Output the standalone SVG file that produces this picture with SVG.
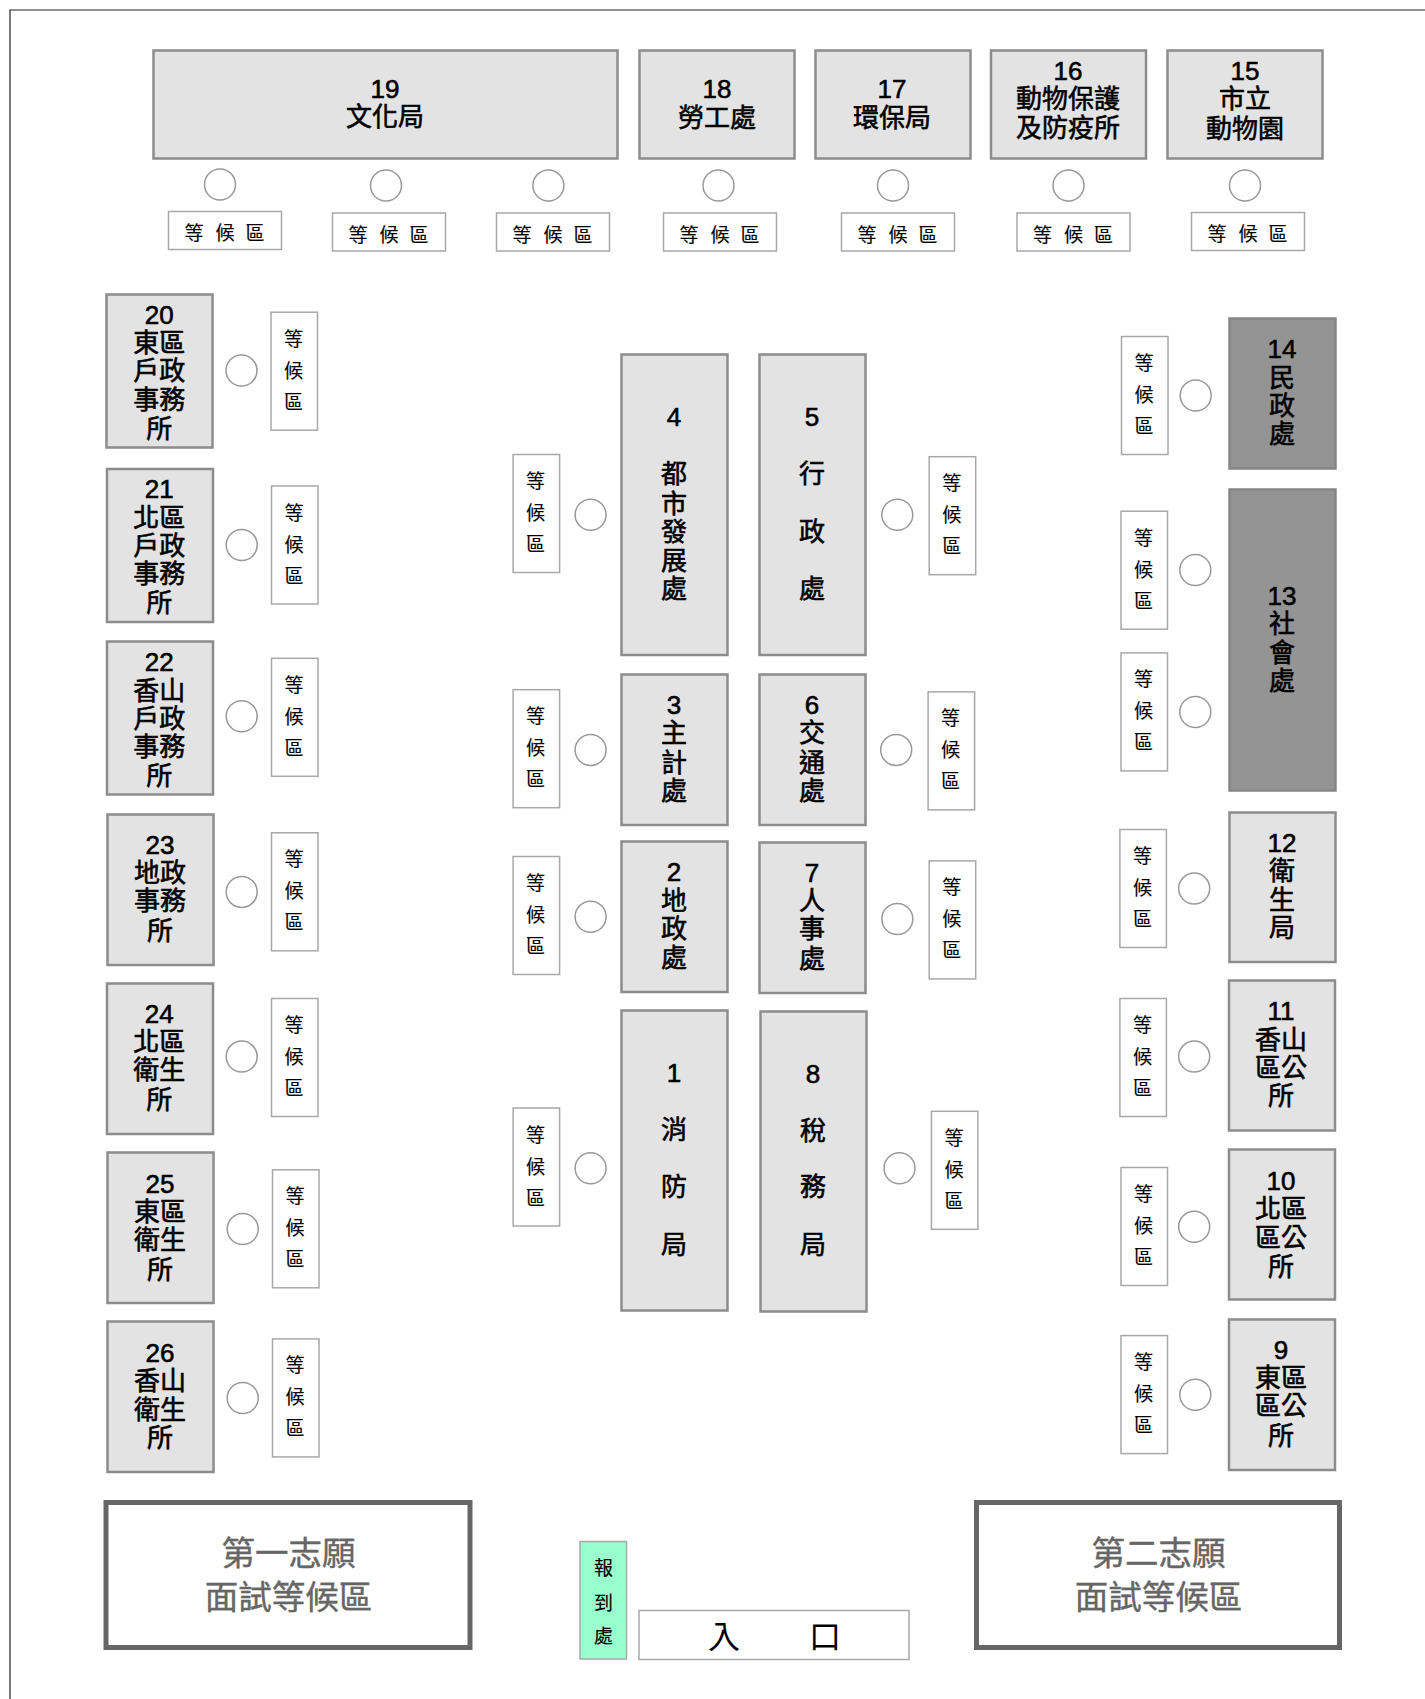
<svg xmlns="http://www.w3.org/2000/svg" width="1425" height="1699" viewBox="0 0 1425 1699">
<style>
text{font-family:"Liberation Sans","Noto Sans CJK TC",sans-serif;text-anchor:middle;fill:#000}
.n{fill:#e3e3e3;stroke:#8c8c8c;stroke-width:2.5;transform:translate(.5px,.5px)}
.d{fill:#949494;stroke:#868686;stroke-width:2.5;transform:translate(.5px,.5px)}
.w{fill:#fff;stroke:#a8a8a8;stroke-width:1.5;transform:translate(.5px,.5px)}
.c{fill:#fff;stroke:#999;stroke-width:1.5}
.t{font-size:26px;stroke:#000;stroke-width:.6;transform:translateY(-.8px)}
.ws{font-size:19px;stroke:#000;stroke-width:.15;transform:translateY(1px)}
.rs{font-size:19px;stroke:#000;stroke-width:.15}
.big{fill:#fff;stroke:#666;stroke-width:5}
.bt{font-size:33.500px;fill:#666;stroke:#666;stroke-width:.4}
</style>
<rect width="1425" height="1699" fill="#fff"/>
<path d="M10 1699V10H1425" fill="none" stroke="#222" stroke-width="1.2"/>
<g id="n19"><rect class="n" x="153" y="50" width="464" height="108"/><text class="t"><tspan x="385" y="98.500">19</tspan><tspan x="385" y="126.500">文化局</tspan></text></g>
<g id="n18"><rect class="n" x="639" y="50" width="155" height="108"/><text class="t"><tspan x="717" y="98.500">18</tspan><tspan x="717" y="127.500">勞工處</tspan></text></g>
<g id="n17"><rect class="n" x="815" y="50" width="155" height="108"/><text class="t"><tspan x="892" y="98.500">17</tspan><tspan x="892" y="127.500">環保局</tspan></text></g>
<g id="n16"><rect class="n" x="990.500" y="50" width="155" height="108"/><text class="t"><tspan x="1068" y="81">16</tspan><tspan x="1068" y="109">動物保護</tspan><tspan x="1068" y="137.500">及防疫所</tspan></text></g>
<g id="n15"><rect class="n" x="1167" y="50" width="155" height="108"/><text class="t"><tspan x="1245" y="81">15</tspan><tspan x="1245" y="109">市立</tspan><tspan x="1245" y="138.500">動物園</tspan></text></g>
<g id="n20"><rect class="n" x="106" y="294" width="106" height="153"/><text class="t"><tspan x="159.300" y="325">20</tspan><tspan x="159.300" y="353">東區</tspan><tspan x="159.300" y="381">戶政</tspan><tspan x="159.300" y="409.500">事務</tspan><tspan x="159.300" y="438.500">所</tspan></text></g>
<g id="n21"><rect class="n" x="106.500" y="468.500" width="106" height="153"/><text class="t"><tspan x="159.300" y="499.300">21</tspan><tspan x="159.300" y="527.500">北區</tspan><tspan x="159.300" y="555.700">戶政</tspan><tspan x="159.300" y="583.900">事務</tspan><tspan x="159.300" y="613">所</tspan></text></g>
<g id="n22"><rect class="n" x="106.500" y="641" width="106" height="153"/><text class="t"><tspan x="159.300" y="671.700">22</tspan><tspan x="159.300" y="700.900">香山</tspan><tspan x="159.300" y="729">戶政</tspan><tspan x="159.300" y="757.300">事務</tspan><tspan x="159.300" y="785.400">所</tspan></text></g>
<g id="n23"><rect class="n" x="107" y="814" width="106" height="150.500"/><text class="t"><tspan x="160" y="854.800">23</tspan><tspan x="160" y="883">地政</tspan><tspan x="160" y="911.100">事務</tspan><tspan x="160" y="940.400">所</tspan></text></g>
<g id="n24"><rect class="n" x="106.500" y="983" width="106" height="150.500"/><text class="t"><tspan x="159.300" y="1023.800">24</tspan><tspan x="159.300" y="1052">北區</tspan><tspan x="159.300" y="1080.200">衛生</tspan><tspan x="159.300" y="1109.500">所</tspan></text></g>
<g id="n25"><rect class="n" x="107" y="1152" width="106" height="150.500"/><text class="t"><tspan x="160" y="1194">25</tspan><tspan x="160" y="1222.200">東區</tspan><tspan x="160" y="1250.300">衛生</tspan><tspan x="160" y="1279.600">所</tspan></text></g>
<g id="n26"><rect class="n" x="107" y="1321" width="106" height="150.500"/><text class="t"><tspan x="160" y="1363">26</tspan><tspan x="160" y="1391.200">香山</tspan><tspan x="160" y="1419.400">衛生</tspan><tspan x="160" y="1447.500">所</tspan></text></g>
<g id="n4"><rect class="n" x="621" y="354" width="106" height="300.500"/><text class="t"><tspan x="674" y="426.500">4</tspan><tspan x="674" y="484.200">都</tspan><tspan x="674" y="513.400">市</tspan><tspan x="674" y="541.500">發</tspan><tspan x="674" y="570.900">展</tspan><tspan x="674" y="599">處</tspan></text></g>
<g id="n5"><rect class="n" x="759" y="354" width="106" height="300.500"/><text class="t"><tspan x="812" y="426.500">5</tspan><tspan x="812" y="484.200">行</tspan><tspan x="812" y="541.500">政</tspan><tspan x="812" y="599">處</tspan></text></g>
<g id="n3"><rect class="n" x="621" y="674" width="106" height="150.500"/><text class="t"><tspan x="674" y="715">3</tspan><tspan x="674" y="743.200">主</tspan><tspan x="674" y="772.400">計</tspan><tspan x="674" y="800.600">處</tspan></text></g>
<g id="n6"><rect class="n" x="759" y="674" width="106" height="150.500"/><text class="t"><tspan x="812" y="715">6</tspan><tspan x="812" y="743.200">交</tspan><tspan x="812" y="772.400">通</tspan><tspan x="812" y="800.600">處</tspan></text></g>
<g id="n2"><rect class="n" x="621" y="841" width="106" height="150.500"/><text class="t"><tspan x="674" y="881.900">2</tspan><tspan x="674" y="911.100">地</tspan><tspan x="674" y="939.300">政</tspan><tspan x="674" y="967.500">處</tspan></text></g>
<g id="n7"><rect class="n" x="759" y="842" width="106" height="150.500"/><text class="t"><tspan x="812" y="883">7</tspan><tspan x="812" y="911.100">人</tspan><tspan x="812" y="939.300">事</tspan><tspan x="812" y="968.500">處</tspan></text></g>
<g id="n1"><rect class="n" x="621" y="1010" width="106" height="300"/><text class="t"><tspan x="674" y="1082.400">1</tspan><tspan x="674" y="1139.800">消</tspan><tspan x="674" y="1197.200">防</tspan><tspan x="674" y="1254.600">局</tspan></text></g>
<g id="n8"><rect class="n" x="760" y="1011" width="106" height="300"/><text class="t"><tspan x="813" y="1083.500">8</tspan><tspan x="813" y="1140.900">稅</tspan><tspan x="813" y="1197.200">務</tspan><tspan x="813" y="1254.600">局</tspan></text></g>
<g id="n14"><rect class="d" x="1229" y="318" width="106" height="150"/><text class="t"><tspan x="1282" y="358.500">14</tspan><tspan x="1282" y="387.700">民</tspan><tspan x="1282" y="415.900">政</tspan><tspan x="1282" y="444.100">處</tspan></text></g>
<g id="n13"><rect class="d" x="1229" y="489" width="106" height="301"/><text class="t"><tspan x="1282" y="605.500">13</tspan><tspan x="1282" y="633.700">社</tspan><tspan x="1282" y="663">會</tspan><tspan x="1282" y="691.100">處</tspan></text></g>
<g id="n12"><rect class="n" x="1229" y="812" width="106" height="149.500"/><text class="t"><tspan x="1282" y="852.500">12</tspan><tspan x="1282" y="880.800">衛</tspan><tspan x="1282" y="910">生</tspan><tspan x="1282" y="938.200">局</tspan></text></g>
<g id="n11"><rect class="n" x="1228.500" y="980" width="106" height="150"/><text class="t"><tspan x="1281" y="1020.500">11</tspan><tspan x="1281" y="1049.800">香山</tspan><tspan x="1281" y="1078">區公</tspan><tspan x="1281" y="1106.200">所</tspan></text></g>
<g id="n10"><rect class="n" x="1228.500" y="1149" width="106" height="150"/><text class="t"><tspan x="1281" y="1190.700">10</tspan><tspan x="1281" y="1218.900">北區</tspan><tspan x="1281" y="1248.200">區公</tspan><tspan x="1281" y="1276.400">所</tspan></text></g>
<g id="n9"><rect class="n" x="1228.500" y="1319" width="106" height="150.500"/><text class="t"><tspan x="1281" y="1359.800">9</tspan><tspan x="1281" y="1388">東區</tspan><tspan x="1281" y="1416.100">區公</tspan><tspan x="1281" y="1445.400">所</tspan></text></g>

<g id="seat-t1"><circle class="c" cx="220" cy="184.500" r="15.500"/><g transform="translate(168 211)"><rect class="w" width="113" height="38"/><text class="ws" x="26 57 87" y="28 28 28">等候區</text></g></g>
<g id="seat-t2"><circle class="c" cx="386" cy="185.500" r="15.500"/><g transform="translate(332 212.500)"><rect class="w" width="113" height="38"/><text class="ws" x="26 57 87" y="28 28 28">等候區</text></g></g>
<g id="seat-t3"><circle class="c" cx="548.400" cy="185.500" r="15.500"/><g transform="translate(496 212.500)"><rect class="w" width="113" height="38"/><text class="ws" x="26 57 87" y="28 28 28">等候區</text></g></g>
<g id="seat-t4"><circle class="c" cx="718.500" cy="185.500" r="15.500"/><g transform="translate(663 212.500)"><rect class="w" width="113" height="38"/><text class="ws" x="26 57 87" y="28 28 28">等候區</text></g></g>
<g id="seat-t5"><circle class="c" cx="893" cy="185.500" r="15.500"/><g transform="translate(841 212.500)"><rect class="w" width="113" height="38"/><text class="ws" x="26 57 87" y="28 28 28">等候區</text></g></g>
<g id="seat-t6"><circle class="c" cx="1068.500" cy="185.500" r="15.500"/><g transform="translate(1016.500 212.500)"><rect class="w" width="113" height="38"/><text class="ws" x="26 57 87" y="28 28 28">等候區</text></g></g>
<g id="seat-t7"><circle class="c" cx="1245" cy="185.500" r="15.500"/><g transform="translate(1191 212)"><rect class="w" width="113" height="38"/><text class="ws" x="26 57 87" y="28 28 28">等候區</text></g></g>

<g id="seat-20"><circle class="c" cx="241.500" cy="370.500" r="15.500"/><g transform="translate(270.500 311.700)"><rect class="w" width="46.500" height="118"/><text class="ws" x="23 23 23" y="33 65 96">等候區</text></g></g>
<g id="seat-21"><circle class="c" cx="241.700" cy="545" r="15.500"/><g transform="translate(271 485.500)"><rect class="w" width="46.500" height="118"/><text class="ws" x="23 23 23" y="33 65 96">等候區</text></g></g>
<g id="seat-22"><circle class="c" cx="241.700" cy="716.300" r="15.500"/><g transform="translate(271 657.800)"><rect class="w" width="46.500" height="118"/><text class="ws" x="23 23 23" y="33 65 96">等候區</text></g></g>
<g id="seat-23"><circle class="c" cx="241.700" cy="891.900" r="15.500"/><g transform="translate(271 832.300)"><rect class="w" width="46.500" height="118"/><text class="ws" x="23 23 23" y="33 65 96">等候區</text></g></g>
<g id="seat-24"><circle class="c" cx="241.700" cy="1056.600" r="15.500"/><g transform="translate(271 998)"><rect class="w" width="46.500" height="118"/><text class="ws" x="23 23 23" y="33 65 96">等候區</text></g></g>
<g id="seat-25"><circle class="c" cx="242.700" cy="1229" r="15.500"/><g transform="translate(272 1169.300)"><rect class="w" width="46.500" height="118"/><text class="ws" x="23 23 23" y="33 65 96">等候區</text></g></g>
<g id="seat-26"><circle class="c" cx="242.700" cy="1398" r="15.500"/><g transform="translate(272 1338.400)"><rect class="w" width="46.500" height="118"/><text class="ws" x="23 23 23" y="33 65 96">等候區</text></g></g>

<g id="seat-4"><circle class="c" cx="590.600" cy="514.800" r="15.500"/><g transform="translate(512.600 454)"><rect class="w" width="46.500" height="118"/><text class="ws" x="23 23 23" y="33 65 96">等候區</text></g></g>
<g id="seat-3"><circle class="c" cx="590.600" cy="750" r="15.500"/><g transform="translate(512.600 689.200)"><rect class="w" width="46.500" height="118"/><text class="ws" x="23 23 23" y="33 65 96">等候區</text></g></g>
<g id="seat-2"><circle class="c" cx="590.600" cy="916.800" r="15.500"/><g transform="translate(512.600 856)"><rect class="w" width="46.500" height="118"/><text class="ws" x="23 23 23" y="33 65 96">等候區</text></g></g>
<g id="seat-1"><circle class="c" cx="590.600" cy="1168.200" r="15.500"/><g transform="translate(512.600 1107.500)"><rect class="w" width="46.500" height="118"/><text class="ws" x="23 23 23" y="33 65 96">等候區</text></g></g>
<g id="seat-5"><circle class="c" cx="897.300" cy="514.800" r="15.500"/><g transform="translate(928.700 456.200)"><rect class="w" width="46.500" height="118"/><text class="ws" x="23 23 23" y="33 65 96">等候區</text></g></g>
<g id="seat-6"><circle class="c" cx="896.200" cy="750" r="15.500"/><g transform="translate(927.600 691.400)"><rect class="w" width="46.500" height="118"/><text class="ws" x="23 23 23" y="33 65 96">等候區</text></g></g>
<g id="seat-7"><circle class="c" cx="897.300" cy="919" r="15.500"/><g transform="translate(928.700 860.400)"><rect class="w" width="46.500" height="118"/><text class="ws" x="23 23 23" y="33 65 96">等候區</text></g></g>
<g id="seat-8"><circle class="c" cx="899.500" cy="1168.200" r="15.500"/><g transform="translate(930.900 1110.800)"><rect class="w" width="46.500" height="118"/><text class="ws" x="23 23 23" y="33 65 96">等候區</text></g></g>

<g id="seat-14"><circle class="c" cx="1195.700" cy="395.500" r="15.500"/><g transform="translate(1121 336)"><rect class="w" width="46.500" height="118"/><text class="ws" x="23 23 23" y="33 65 96">等候區</text></g></g>
<g id="seat-13a"><circle class="c" cx="1195.300" cy="570" r="15.500"/><g transform="translate(1120.500 510.700)"><rect class="w" width="46.500" height="118"/><text class="ws" x="23 23 23" y="33 65 96">等候區</text></g></g>
<g id="seat-13b"><circle class="c" cx="1195.300" cy="712" r="15.500"/><g transform="translate(1120.500 652.400)"><rect class="w" width="46.500" height="118"/><text class="ws" x="23 23 23" y="33 65 96">等候區</text></g></g>
<g id="seat-12"><circle class="c" cx="1194.200" cy="888.600" r="15.500"/><g transform="translate(1119.400 829)"><rect class="w" width="46.500" height="118"/><text class="ws" x="23 23 23" y="33 65 96">等候區</text></g></g>
<g id="seat-11"><circle class="c" cx="1194.200" cy="1056.600" r="15.500"/><g transform="translate(1119.400 998)"><rect class="w" width="46.500" height="118"/><text class="ws" x="23 23 23" y="33 65 96">等候區</text></g></g>
<g id="seat-10"><circle class="c" cx="1194.200" cy="1226.700" r="15.500"/><g transform="translate(1120.500 1167)"><rect class="w" width="46.500" height="118"/><text class="ws" x="23 23 23" y="33 65 96">等候區</text></g></g>
<g id="seat-9"><circle class="c" cx="1195.300" cy="1394.700" r="15.500"/><g transform="translate(1120.500 1335.100)"><rect class="w" width="46.500" height="118"/><text class="ws" x="23 23 23" y="33 65 96">等候區</text></g></g>

<g id="wait-first"><rect class="big" x="106" y="1502.500" width="364" height="145"/><text class="bt"><tspan x="288.500" y="1565">第一志願</tspan><tspan x="288.500" y="1609">面試等候區</tspan></text></g>
<g id="wait-second"><rect class="big" x="976.500" y="1502.500" width="363" height="145"/><text class="bt"><tspan x="1158.500" y="1565">第二志願</tspan><tspan x="1158.500" y="1609">面試等候區</tspan></text></g>
<g id="report"><rect x="580" y="1541.500" width="46.500" height="117.500" fill="#9fc" stroke="#a8a8a8" stroke-width="1.500"/><text class="rs" x="603.600 603.600 603.600" y="1575 1610 1643">報到處</text></g>
<g id="entrance"><rect class="w" x="638.500" y="1610" width="270" height="49"/><text font-size="32" x="724 825" y="1648 1648">入口</text></g>
</svg>
